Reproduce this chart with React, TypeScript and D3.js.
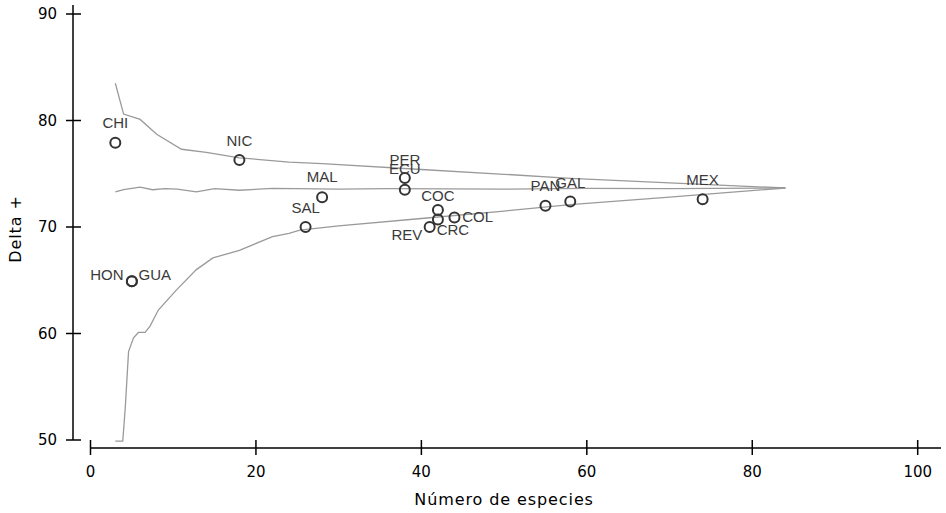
import React from "react";
import * as d3 from "d3";

// Sites: number of species vs. Delta+
const sites = ["CHI", "NIC", "MAL", "SAL", "PER", "ECU", "COC", "CRC", "REV", "COL", "PAN", "GAL", "MEX", "HON", "GUA"];
const species = [3, 18, 28, 26, 38, 38, 42, 42, 41, 44, 55, 58, 74, 5, 5];
const deltaPlus = [77.9, 76.3, 72.8, 70.0, 74.6, 73.5, 71.6, 70.7, 70.0, 70.9, 72.0, 72.4, 72.6, 64.9, 64.9];

// 95% probability funnel (upper, mean, lower)
const upperX = [3, 4, 6, 8, 11, 14, 18, 24, 28, 40, 50, 58, 70, 84];
const upperY = [83.5, 80.6, 80.1, 78.7, 77.3, 77.0, 76.5, 76.1, 75.95, 75.4, 74.95, 74.57, 74.15, 73.66];
const meanX = [3, 4, 6, 7.5, 9, 10.5, 12.8, 15, 18, 22, 30, 36, 50, 60, 70, 84];
const meanY = [73.3, 73.5, 73.75, 73.5, 73.6, 73.55, 73.3, 73.6, 73.45, 73.62, 73.55, 73.6, 73.55, 73.62, 73.6, 73.66];
const lowerX = [3, 3.9, 4.2, 4.6, 5.2, 5.8, 6.6, 7.2, 8.2, 10.4, 12.8, 14.8, 18, 22, 24, 25.3, 30, 40, 50, 58, 70, 84];
const lowerY = [49.9, 49.9, 53, 58.3, 59.6, 60.1, 60.1, 60.7, 62.2, 64.1, 66.0, 67.1, 67.8, 69.1, 69.4, 69.7, 70.1, 70.8, 71.5, 72.1, 72.8, 73.66];

const xTicks = [0, 20, 40, 60, 80, 100];
const yTicks = [50, 60, 70, 80, 90];
const xTitle = "Número de especies";
const yTitle = "Delta +";

// label placement (anchor, offsets in px) per site
const labelAnchor = ["middle", "middle", "middle", "middle", "middle", "middle", "middle", "middle", "end", "start", "middle", "middle", "middle", "end", "start"];
const labelDx = [0, 0, 0, 0, 0, 0, 0, 15, -7.3, 7.7, 0, 0, 0, -8.3, 6.7];
const labelDy = [-14.7, -14.3, -15.5, -14, -13.5, -15.5, -8.5, 15.7, 13.3, 4.4, -14.3, -13.7, -14.7, -1, -1];

export default function App() {
  const W = 946, H = 513;
  const x = d3.scaleLinear().domain([0, 100]).range([90.5, 917.7]);
  const y = d3.scaleLinear().domain([50, 90]).range([440, 14]);
  const axisY = 448;
  const axisX = 73;
  const line = (xs: number[], ys: number[]) =>
    d3.line<number>().x((_, i) => x(xs[i])).y((_, i) => y(ys[i]))(xs) || "";

  const tickFont = "'DejaVu Sans', sans-serif";
  return (
    <svg width={W} height={H} style={{ position: "absolute", left: 0, top: 0, background: "#fff" }}>
      {/* funnel */}
      <g fill="none" stroke="#9a9a9a" strokeWidth={1.3}>
        <path d={line(upperX, upperY)} />
        <path d={line(meanX, meanY)} />
        <path d={line(lowerX, lowerY)} />
      </g>
      {/* y axis */}
      <line x1={axisX} x2={axisX} y1={5} y2={y(50)} stroke="#000" strokeWidth={1.5} />
      {yTicks.map((t) => (
        <g key={"y" + t}>
          <line x1={axisX - 7} x2={axisX + 8} y1={y(t)} y2={y(t)} stroke="#000" strokeWidth={1.5} />
          <text x={57} y={y(t) + 5.3} textAnchor="end" fontFamily={tickFont} fontSize={15} fill="#000">{t}</text>
        </g>
      ))}
      {/* x axis */}
      <line x1={x(0)} x2={941} y1={axisY} y2={axisY} stroke="#000" strokeWidth={1.5} />
      {xTicks.map((t) => (
        <g key={"x" + t}>
          <line x1={x(t)} x2={x(t)} y1={axisY - 8} y2={axisY + 7} stroke="#000" strokeWidth={1.5} />
          <text x={x(t)} y={477} textAnchor="middle" fontFamily={tickFont} fontSize={15} fill="#000">{t}</text>
        </g>
      ))}
      <text x={x(50)} y={505} textAnchor="middle" fontFamily={tickFont} fontSize={16} letterSpacing={0.9} fill="#000">{xTitle}</text>
      <text transform={`translate(21,229) rotate(-90)`} textAnchor="middle" fontFamily={tickFont} fontSize={16} letterSpacing={0.9} fill="#000">{yTitle}</text>
      {/* points */}
      <g fill="none" stroke="#333" strokeWidth={2}>
        {sites.map((s, i) => (
          <circle key={"c" + s} cx={x(species[i])} cy={y(deltaPlus[i])} r={5} />
        ))}
      </g>
      <g fontFamily="'Liberation Sans', Arial, sans-serif" fontSize={15} fill="#3a3a3a">
        {sites.map((s, i) => (
          <text key={"t" + s} x={x(species[i]) + labelDx[i]} y={y(deltaPlus[i]) + labelDy[i]} textAnchor={labelAnchor[i] as any}>{s}</text>
        ))}
      </g>
    </svg>
  );
}
